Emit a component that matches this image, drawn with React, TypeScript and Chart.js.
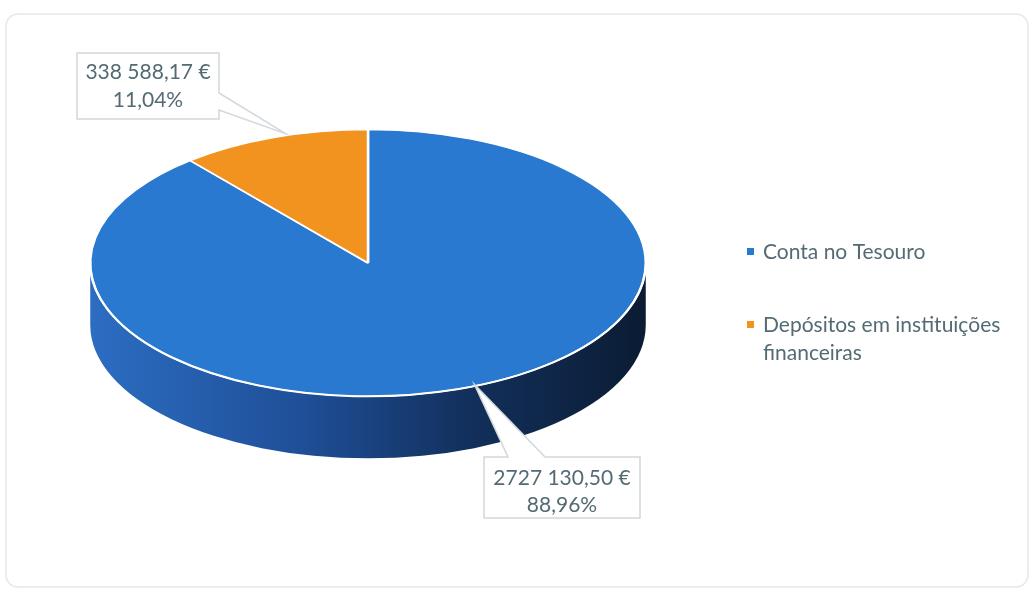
import { useEffect, useRef } from 'react';
import { Chart, registerables } from 'chart.js';

Chart.register(...registerables);

// ---- data ----
const categories = ['Conta no Tesouro', 'Depósitos em instituições financeiras'];
const legendLines = [['Conta no Tesouro'], ['Depósitos em instituições', 'financeiras']];
const amounts = [2727130.5, 338588.17];
const amountLabels = ['2727 130,50 €', '338 588,17 €'];
const percentLabels = ['88,96%', '11,04%'];

// ---- styles ----
const topColors = ['#2a79d1', '#f3931f'];
const sideStops = [
  ['#2c6dc2', '#1f4f98', '#12305c', '#0b1c33'],
  ['#c8731a', '#a85c12', '#86470c', '#603208'],
];
const W = 1033;
const H = 592;
const TILT = 0.48; // vertical squash of the pie top
const TOP_CY = 263; // centre of the squashed top face
const DEPTH = 62; // thickness of the pie
const FONT = '21px Lato, "Open Sans", sans-serif';
const TEXT = '#546b74';

// callout box layouts (x0, y0, x1, y1), pointer base edge and text anchors
const calloutLayout = [
  { box: [484, 457, 640, 518], edge: 'top', base: [508, 545], text: [562, 478, 505] },
  { box: [77, 53, 219, 119], edge: 'right', base: [93, 110], text: [148, 72, 100] },
];

function angleRanges(s: number, e: number): [number, number][] {
  const out: [number, number][] = [];
  for (const off of [0, 2 * Math.PI, -2 * Math.PI]) {
    const a = Math.max(s, off + 0);
    const b = Math.min(e, off + Math.PI);
    if (b > a) out.push([a - off, b - off]);
  }
  return out;
}

const pie3d = {
  id: 'pie3d',
  beforeDraw(chart: any) {
    const ctx = chart.ctx;
    ctx.save();
    ctx.fillStyle = '#ffffff';
    ctx.fillRect(0, 0, W, H);
    ctx.strokeStyle = '#e6e7ea';
    ctx.lineWidth = 1.5;
    ctx.beginPath();
    ctx.roundRect(6, 14, 1022, 573, 12);
    ctx.stroke();
    ctx.restore();
  },
  beforeDatasetDraw(chart: any) {
    const ctx = chart.ctx;
    const arcs = chart.getDatasetMeta(0).data;
    if (!arcs.length) return;
    const cx = arcs[0].x;
    const rx = arcs[0].outerRadius;
    const ry = rx * TILT;
    ctx.save();
    arcs.forEach((arc: any, i: number) => {
      const stops = sideStops[i];
      const g = ctx.createLinearGradient(cx - rx, 0, cx + rx, 0);
      g.addColorStop(0, stops[0]);
      g.addColorStop(0.38, stops[1]);
      g.addColorStop(0.68, stops[2]);
      g.addColorStop(1, stops[3]);
      for (const [a, b] of angleRanges(arc.startAngle, arc.endAngle)) {
        ctx.beginPath();
        ctx.ellipse(cx, TOP_CY, rx, ry, 0, a, b, false);
        ctx.lineTo(cx + rx * Math.cos(b), TOP_CY + ry * Math.sin(b) + DEPTH);
        ctx.ellipse(cx, TOP_CY + DEPTH, rx, ry, 0, b, a, true);
        ctx.closePath();
        ctx.fillStyle = g;
        ctx.fill();
      }
    });
    ctx.restore();
    // squash the top face drawn by Chart.js
    ctx.save();
    ctx.translate(0, TOP_CY);
    ctx.scale(1, TILT);
    ctx.translate(0, -arcs[0].y);
  },
  afterDatasetDraw(chart: any) {
    const ctx = chart.ctx;
    ctx.restore();
    const arcs = chart.getDatasetMeta(0).data;
    const cx = arcs[0].x;
    const rx = arcs[0].outerRadius;
    const ry = rx * TILT;
    // white rim on the front edge
    ctx.save();
    ctx.strokeStyle = '#ffffff';
    ctx.lineWidth = 2;
    ctx.beginPath();
    ctx.ellipse(cx, TOP_CY, rx, ry, 0, 0.05, Math.PI - 0.05, false);
    ctx.stroke();
    ctx.restore();

    // callouts
    arcs.forEach((arc: any, i: number) => {
      const L = calloutLayout[i];
      const m = (arc.startAngle + arc.endAngle) / 2;
      const tx = cx + rx * Math.cos(m) + 12;
      const ty = TOP_CY + ry * Math.sin(m) - 4;
      const [x0, y0, x1, y1] = L.box;
      ctx.save();
      ctx.beginPath();
      if (L.edge === 'top') {
        ctx.moveTo(x0, y0);
        ctx.lineTo(L.base[0], y0);
        ctx.lineTo(tx, ty);
        ctx.lineTo(L.base[1], y0);
        ctx.lineTo(x1, y0);
        ctx.lineTo(x1, y1);
        ctx.lineTo(x0, y1);
      } else {
        ctx.moveTo(x0, y0);
        ctx.lineTo(x1, y0);
        ctx.lineTo(x1, L.base[0]);
        ctx.lineTo(tx, ty);
        ctx.lineTo(x1, L.base[1]);
        ctx.lineTo(x1, y1);
        ctx.lineTo(x0, y1);
      }
      ctx.closePath();
      ctx.fillStyle = '#ffffff';
      ctx.fill();
      ctx.strokeStyle = '#d2d8dc';
      ctx.lineWidth = 1.5;
      ctx.stroke();
      ctx.fillStyle = TEXT;
      ctx.font = FONT;
      ctx.textAlign = 'center';
      ctx.textBaseline = 'middle';
      ctx.fillText(amountLabels[i], L.text[0], L.text[1]);
      ctx.fillText(percentLabels[i], L.text[0], L.text[2]);
      ctx.restore();
    });
  },
  afterDraw(chart: any) {
    const ctx = chart.ctx;
    ctx.save();
    ctx.font = FONT;
    ctx.textAlign = 'left';
    ctx.textBaseline = 'alphabetic';
    const starts = [259, 332];
    legendLines.forEach((lines, i) => {
      ctx.fillStyle = topColors[i];
      ctx.fillRect(747, starts[i] - 11, 7, 7);
      ctx.fillStyle = TEXT;
      lines.forEach((t, j) => ctx.fillText(t, 763, starts[i] + j * 28));
    });
    ctx.restore();
  },
};

export default function App() {
  const ref = useRef<HTMLCanvasElement>(null);
  useEffect(() => {
    const canvas = ref.current!;
    const chart = new Chart(canvas, {
      type: 'pie',
      data: {
        labels: categories,
        datasets: [
          {
            data: amounts,
            backgroundColor: topColors,
            borderColor: '#ffffff',
            borderWidth: 2.5,
            clip: false as any,
          },
        ],
      },
      options: {
        responsive: false,
        animation: false,
        rotation: 0,
        layout: { padding: { left: 89, right: 386, top: 17, bottom: 17 } },
        plugins: { legend: { display: false }, tooltip: { enabled: false } },
      },
      plugins: [pie3d],
    });
    return () => chart.destroy();
  }, []);
  return (
    <div style={{ position: 'absolute', left: 0, top: 0, width: W, height: H, background: '#fff' }}>
      <canvas ref={ref} width={W} height={H} style={{ display: 'block', width: W, height: H }} />
    </div>
  );
}
